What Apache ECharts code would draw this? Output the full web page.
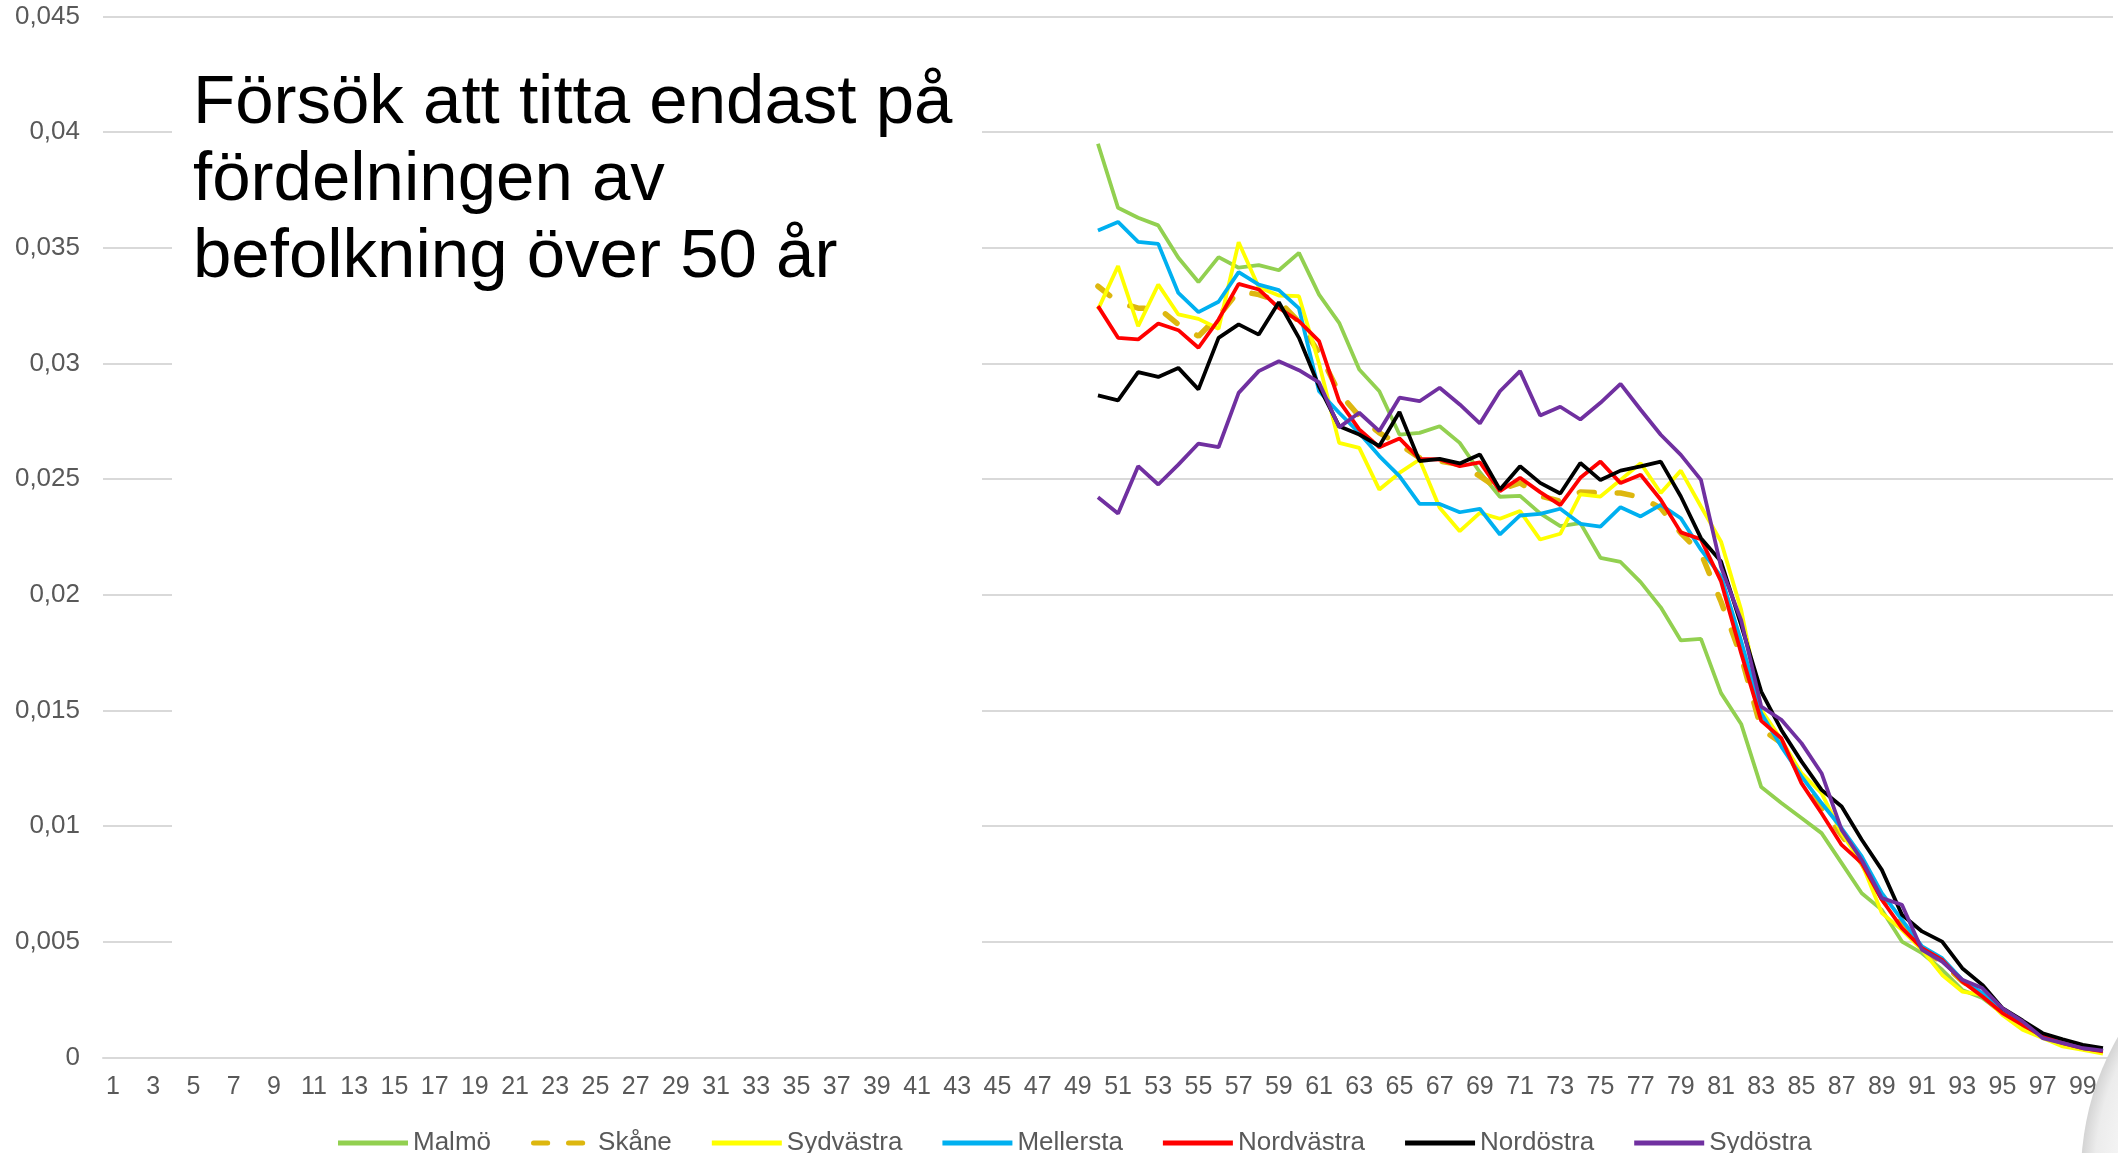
<!DOCTYPE html>
<html>
<head>
<meta charset="utf-8">
<title>Befolkning över 50 år</title>
<script src="https://cdn.jsdelivr.net/npm/echarts@6/dist/echarts.min.js"></script>
<style>
  html, body { margin: 0; padding: 0; background: #fff; }
  #chart { width: 2118px; height: 1153px; }
</style>
</head>
<body>
<div id="chart"></div>
<script>
// ages 1..100, values only from 50 and up
var categories = [];
for (var i = 1; i <= 100; i++) categories.push(String(i));

var yTicks = [0, 0.005, 0.01, 0.015, 0.02, 0.025, 0.03, 0.035, 0.04, 0.045];

// values for age 50..100
var malmo = [0.0395, 0.03673, 0.0363, 0.03597, 0.03457, 0.03352, 0.0346, 0.03414, 0.03425, 0.03403,
  0.03478, 0.03298, 0.03176, 0.02974, 0.0288, 0.02693, 0.027, 0.02729, 0.02657, 0.0253,
  0.02424, 0.02428, 0.02352, 0.02297, 0.0231, 0.0216, 0.02142, 0.02055, 0.01946, 0.01803,
  0.0181, 0.01575, 0.01442, 0.01169, 0.011, 0.01035, 0.0097, 0.0084, 0.0071, 0.00638,
  0.00501, 0.00451, 0.00379, 0.00292, 0.00257, 0.00192, 0.00148, 0.0009, 0.00062, 0.0004, 0.00026];
var skane = [0.03334, 0.03265, 0.03239, 0.0324, 0.03169, 0.03118, 0.03205, 0.03313, 0.03298, 0.0327,
  0.0318, 0.03046, 0.02873, 0.02772, 0.027, 0.0265, 0.02592, 0.02578, 0.02563, 0.02513,
  0.02455, 0.02484, 0.02427, 0.02405, 0.02444, 0.02441, 0.0244, 0.02422, 0.02375, 0.02267,
  0.0218, 0.0197, 0.01733, 0.0142, 0.0136, 0.0121, 0.0108, 0.0096, 0.0084, 0.0069,
  0.0057, 0.0047, 0.0041, 0.0033, 0.0027, 0.0019, 0.0014, 0.0009, 0.0006, 0.0004, 0.00025];
var sydvastra = [0.03233, 0.03421, 0.03161, 0.03341, 0.03212, 0.03193, 0.0315, 0.03524, 0.0333, 0.03294,
  0.03291, 0.0300, 0.02657, 0.02635, 0.02455, 0.02527, 0.02585, 0.02376, 0.02275, 0.02354,
  0.02329, 0.02362, 0.02239, 0.02264, 0.02434, 0.02425, 0.02497, 0.02569, 0.0244, 0.02537,
  0.02382, 0.0223, 0.01935, 0.01503, 0.01373, 0.01229, 0.01143, 0.0097, 0.0084, 0.00624,
  0.00552, 0.00465, 0.00357, 0.00285, 0.00271, 0.00184, 0.0012, 0.00084, 0.00048, 0.00033, 0.00017];
var mellersta = [0.03575, 0.03612, 0.03526, 0.03517, 0.03305, 0.03222, 0.03267, 0.03395, 0.03341, 0.03317,
  0.03238, 0.0288, 0.02787, 0.027, 0.026, 0.02513, 0.02393, 0.02393, 0.02357, 0.02372,
  0.02261, 0.02343, 0.0235, 0.02372, 0.02307, 0.02295, 0.02379, 0.02339, 0.02389, 0.02331,
  0.02195, 0.0208, 0.0180, 0.01488, 0.01344, 0.01215, 0.011, 0.00991, 0.00869, 0.0071,
  0.00595, 0.0048, 0.00429, 0.00336, 0.00278, 0.00199, 0.00148, 0.00094, 0.00065, 0.00043, 0.0003];
var nordvastra = [0.03248, 0.03111, 0.03104, 0.03173, 0.03144, 0.03068, 0.0319, 0.03344, 0.0332, 0.0324,
  0.03183, 0.03097, 0.02837, 0.02715, 0.02638, 0.02676, 0.02588, 0.02585, 0.02556, 0.02573,
  0.02448, 0.02506, 0.02444, 0.02388, 0.02506, 0.02576, 0.02483, 0.02519, 0.02411, 0.0227,
  0.0224, 0.02058, 0.01748, 0.01455, 0.0138, 0.01186, 0.01056, 0.00919, 0.0084, 0.00682,
  0.00559, 0.00473, 0.00422, 0.00329, 0.00264, 0.00192, 0.00141, 0.00091, 0.00062, 0.0004, 0.00026];
var nordostra = [0.02862, 0.02841, 0.02963, 0.02942, 0.02981, 0.02888, 0.03111, 0.03169, 0.03125, 0.03265,
  0.03111, 0.0290, 0.02729, 0.02693, 0.02643, 0.0279, 0.02578, 0.02588, 0.02568, 0.02607,
  0.02455, 0.02556, 0.02484, 0.02438, 0.0257, 0.02496, 0.02537, 0.02555, 0.02576, 0.02425,
  0.02245, 0.02144, 0.0187, 0.01582, 0.01416, 0.0128, 0.01157, 0.01085, 0.00941, 0.00811,
  0.00617, 0.00545, 0.00501, 0.00386, 0.00314, 0.00213, 0.0016, 0.00105, 0.00079, 0.00055, 0.0004];
var sydostra = [0.02422, 0.02352, 0.02556, 0.02477, 0.02563, 0.02654, 0.02638, 0.02873, 0.02967, 0.0301,
  0.02971, 0.02918, 0.02724, 0.02787, 0.02708, 0.02852, 0.02837, 0.02895, 0.02823, 0.02741,
  0.0288, 0.02967, 0.02775, 0.02813, 0.02758, 0.0283, 0.02912, 0.028, 0.02692, 0.02605,
  0.02497, 0.0212, 0.0189, 0.01517, 0.0146, 0.01359, 0.01229, 0.00984, 0.00854, 0.00689,
  0.0066, 0.00465, 0.00415, 0.00336, 0.003, 0.00213, 0.00156, 0.00084, 0.00062, 0.0004, 0.0003];

var seriesNames = ['Malmö', 'Skåne', 'Sydvästra', 'Mellersta', 'Nordvästra', 'Nordöstra', 'Sydöstra'];
var seriesColors = ['#92D050', '#DDB70F', '#FFFF00', '#00B0F0', '#FF0000', '#000000', '#7030A0'];
var seriesValues = [malmo, skane, sydvastra, mellersta, nordvastra, nordostra, sydostra];

var titleLines = ['Försök att titta endast på', 'fördelningen av', 'befolkning över 50 år'];

// pad ages 1..49 with nulls
function fullSeries(vals) {
  var out = [];
  for (var k = 1; k < 50; k++) out.push(null);
  return out.concat(vals);
}

var font = '"Liberation Sans", Arial, sans-serif';
// two rounded dashes for the dashed legend item
var dashIcon = 'path://M3,0h17a3,3 0 0 1 0,6h-17a3,3 0 0 1 0,-6z M45,0h17a3,3 0 0 1 0,6h-17a3,3 0 0 1 0,-6z';

var myChart = echarts.init(document.getElementById('chart'));

var series = seriesNames.map(function (name, idx) {
  var dashed = name === 'Skåne';
  return {
    name: name,
    type: 'line',
    data: fullSeries(seriesValues[idx]),
    symbol: 'none',
    color: seriesColors[idx],
    lineStyle: dashed ? {
      color: seriesColors[idx], width: 5.5, type: [15, 23], cap: 'round'
    } : {
      color: seriesColors[idx], width: 3.8
    },
    z: 2 + idx
  };
});

myChart.setOption({
  animation: false,
  backgroundColor: '#ffffff',
  grid: {
    left: 103,
    right: 5,
    top: 16.5,
    bottom: 95.5
  },
  legend: {
    data: seriesNames.map(function (n) {
      return { name: n, icon: n === 'Skåne' ? dashIcon : 'rect' };
    }),
    left: 338,
    top: 1130,
    padding: 0,
    itemWidth: 70,
    itemHeight: 5,
    itemGap: 40,
    textStyle: { fontFamily: font, fontSize: 26, color: '#595959' }
  },
  xAxis: {
    type: 'category',
    data: categories,
    axisTick: { show: false },
    axisLine: { lineStyle: { color: '#D9D9D9', width: 2 } },
    axisLabel: {
      interval: 1,
      margin: 17,
      fontFamily: font,
      fontSize: 25,
      color: '#595959'
    }
  },
  yAxis: {
    type: 'value',
    min: yTicks[0],
    max: yTicks[yTicks.length - 1],
    interval: 0.005,
    axisLine: { show: false },
    axisTick: { show: false },
    splitLine: { lineStyle: { color: '#D9D9D9', width: 2 } },
    axisLabel: {
      margin: 23,
      fontFamily: font,
      fontSize: 26,
      color: '#595959',
      formatter: function (v) {
        return v === 0 ? '0' : String(+v.toFixed(3)).replace('.', ',');
      }
    }
  },
  graphic: [
    {
      type: 'rect',
      z: 50,
      shape: { x: 172, y: 40, width: 810, height: 990 },
      style: { fill: '#ffffff' }
    },
    {
      type: 'text',
      z: 60,
      left: 193,
      top: 65,
      style: {
        text: titleLines.join('\n'),
        fontFamily: font,
        fontSize: 69,
        lineHeight: 77,
        fill: '#000000'
      }
    },
    {
      type: 'circle',
      z: 60,
      shape: { cx: 2358, cy: 1175, r: 277 },
      style: {
        fill: {
          type: 'radial', x: 0.5, y: 0.5, r: 0.5,
          colorStops: [
            { offset: 0, color: '#ffffff' },
            { offset: 0.8, color: '#fafafa' },
            { offset: 0.95, color: '#ececec' },
            { offset: 1, color: '#d4d4d4' }
          ]
        }
      }
    }
  ],
  series: series
});
</script>
</body>
</html>
